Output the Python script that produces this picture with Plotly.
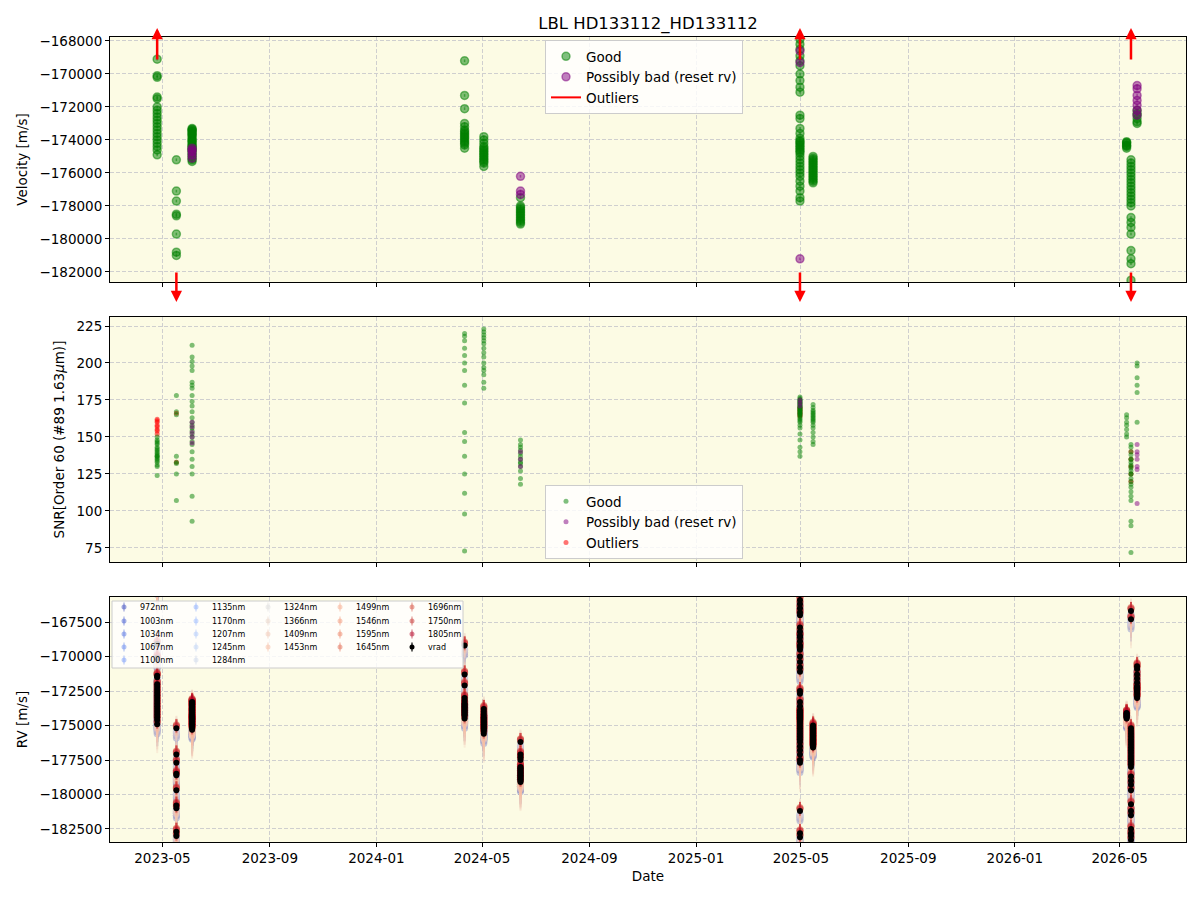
import plotly.graph_objects as go

# ---------------- data ----------------
epoch_dates = ["2023-04-25", "2023-05-17", "2023-06-04", "2024-04-11", "2024-05-03",
               "2024-06-14", "2025-04-30", "2025-05-15", "2026-05-09", "2026-05-14", "2026-05-21"]

good_rv = [
    [-169100, -170100, -170200, -171400, -171500, -172000, -172200, -172400, -172600, -172800,
     -173000, -173200, -173400, -173600, -173800, -174000, -174200, -174400, -174600, -174900],
    [-175200, -177100, -177700, -178500, -178600, -179700, -180800, -181000],
    [-173300, -173350, -173400, -173500, -173600, -173650, -173700, -173800, -173900, -174000,
     -174050, -174100, -174200, -174300, -174350, -174400, -174500, -174600, -174700, -174800,
     -174900, -175000, -175100, -175200, -175300, -173450, -174550],
    [-169200, -171300, -172100, -173000, -173200, -173400, -173500, -173600, -173700, -173800,
     -173900, -174000, -174100, -174200, -174300, -174500],
    [-173800, -174000, -174200, -174400, -174500, -174600, -174700, -174800, -174900, -175000,
     -175100, -175200, -175300, -175400, -175600],
    [-177500, -178000, -178100, -178200, -178300, -178400, -178500, -178600, -178700, -178800,
     -178900, -179000, -179100],
    [-167900, -168200, -168500, -168900, -169200, -169500, -170000, -170400, -170800, -171100,
     -172500, -172700, -173300, -173600, -173900, -174100, -174200, -174300, -174400, -174500,
     -174600, -174700, -174800, -175000, -175200, -175400, -175600, -175800, -176000, -176200,
     -176500, -176800, -177100, -177500, -177700, -174050],
    [-175000, -175100, -175200, -175300, -175400, -175500, -175600, -175700, -175800, -175900,
     -176000, -176100, -176200, -176300, -176400, -176500, -176600],
    [-174100, -174150, -174200, -174300, -174350, -174400, -174500],
    [-175200, -175400, -175600, -175800, -176000, -176200, -176400, -176600, -176800, -177000,
     -177200, -177400, -177600, -177800, -178000, -178700, -179000, -179300, -179700, -180700,
     -181200, -181500, -182500],
    [-172200, -172500, -172700, -172900, -173000, -172400],
]
good_snr = [
    [150, 148, 147, 146, 145, 143, 142, 141, 140, 139, 138, 137, 136, 135, 134, 133, 131, 130, 137, 124],
    [178, 167, 165, 137, 133, 125, 107, 132],
    [212, 204, 201, 198, 195, 187, 185, 183, 178, 174, 171, 167, 163, 160, 158, 156, 154, 152, 150, 147,
     145, 140, 135, 130, 125, 93, 110],
    [73, 98, 112, 125, 137, 147, 153, 173, 185, 195, 200, 205, 210, 215, 218, 220],
    [223, 221, 219, 217, 215, 213, 210, 207, 204, 200, 197, 195, 192, 187, 183],
    [148, 145, 143, 141, 139, 137, 135, 133, 130, 127, 122, 118, 132],
    [177, 176, 175, 175, 174, 174, 173, 173, 172, 172, 171, 171, 170, 170, 169, 169, 168, 168, 167, 167,
     166, 166, 165, 165, 164, 163, 162, 161, 160, 158, 156, 152, 148, 143, 140, 137],
    [172, 170, 168, 167, 166, 165, 164, 163, 162, 161, 160, 158, 156, 153, 150, 147, 145],
    [165, 163, 160, 158, 155, 152, 150],
    [145, 143, 140, 138, 135, 133, 131, 129, 127, 125, 122, 120, 118, 116, 113, 110, 107, 93, 90, 72,
     125, 130, 135],
    [200, 198, 190, 185, 180, 160],
]
bad_rv = [[], [], [-174500, -174700, -174900, -175100, -174600], [], [],
          [-176200, -177100, -177300], [-168600, -169300, -181200], [], [], [],
          [-170700, -170900, -171300, -171600, -171900, -172200, -172500]]
bad_snr = [[], [], [160, 157, 150, 146, 153], [], [],
           [140, 135, 130], [175, 173, 171], [], [], [],
           [140, 138, 135, 130, 128, 105, 145]]
out_rv = [[-164800, -164700, -164600, -164500, -164400, -164300, -164200, -164100],
          [-182700, -183000], [], [], [], [],
          [-167000, -166800, -166500, -166200, -165900, -182800, -183100], [], [],
          [-166700, -167300, -182800, -183000, -183300], []]
out_snr = [[152, 154, 155, 157, 158, 160, 161, 162],
           [166, 133], [], [], [], [],
           [170, 169, 168, 167, 166, 165, 164], [], [],
           [140, 135, 130, 125, 120], []]

band_names = ["972nm", "1003nm", "1034nm", "1067nm", "1100nm", "1135nm", "1170nm", "1207nm",
              "1245nm", "1284nm", "1324nm", "1366nm", "1409nm", "1453nm", "1499nm", "1546nm",
              "1595nm", "1645nm", "1696nm", "1750nm", "1805nm"]
band_offset = [-700, -550, -500, -400, -350, -300, -250, -250, -200, -150, -400, -500, -600, -300,
               100, 150, 200, 250, 250, 200, 150]
band_err = [900, 800, 750, 700, 650, 600, 600, 650, 700, 800, 1200, 1400, 1500, 1000,
            600, 500, 450, 400, 400, 450, 500]

# ---------------- helpers ----------------
CW = [(59, 76, 192), (68, 90, 204), (77, 104, 215), (87, 117, 225), (98, 130, 234), (108, 142, 241),
      (119, 154, 247), (130, 165, 251), (141, 176, 254), (152, 185, 255), (163, 194, 255),
      (174, 201, 253), (184, 208, 249), (194, 213, 244), (204, 217, 238), (213, 219, 230),
      (221, 221, 221), (229, 216, 209), (236, 211, 197), (241, 204, 185), (245, 196, 173),
      (247, 187, 160), (247, 177, 148), (247, 166, 135), (244, 154, 123), (241, 141, 111),
      (236, 127, 99), (229, 112, 88), (222, 96, 77), (213, 80, 66), (203, 62, 56), (192, 40, 47),
      (180, 4, 38)]


def coolwarm(t, a):
    p = t * (len(CW) - 1)
    i = min(int(p), len(CW) - 2)
    f = p - i
    c = [round(CW[i][k] + (CW[i + 1][k] - CW[i][k]) * f) for k in range(3)]
    return f"rgba({c[0]},{c[1]},{c[2]},{a})"


def flat(lists):
    xs, ys = [], []
    for d, vals in zip(epoch_dates, lists):
        xs += [d] * len(vals)
        ys += list(vals)
    return xs, ys


GREEN = "rgba(0,128,0,0.5)"
PURPLE = "rgba(128,0,128,0.5)"
RED = "rgba(255,0,0,0.55)"

Y1 = [-182606, -167758]
Y2 = [65.5, 231.1]
Y3 = [-183442, -165688]

fig = go.Figure()

# ---------------- panel 1 ----------------
gx, gy = flat(good_rv)
bx, by = flat(bad_rv)
fig.add_trace(go.Scatter(x=gx, y=gy, mode="markers", name="Good", legend="legend", legendrank=1,
                         marker=dict(size=8, color=GREEN, line=dict(color=GREEN, width=1.5)),
                         error_y=dict(type="constant", value=80, color=GREEN, thickness=1.5, width=0),
                         xaxis="x", yaxis="y"))
fig.add_trace(go.Scatter(x=bx, y=by, mode="markers", name="Possibly bad (reset rv)", legend="legend",
                         legendrank=2,
                         marker=dict(size=8, color=PURPLE, line=dict(color=PURPLE, width=1.5)),
                         error_y=dict(type="constant", value=80, color=PURPLE, thickness=1.5, width=0),
                         xaxis="x", yaxis="y"))
fig.add_trace(go.Scatter(x=[None, None], y=[None, None], mode="lines", name="Outliers", legend="legend",
                         legendrank=3, line=dict(color="red", width=2), xaxis="x", yaxis="y"))

annotations = []
ox, oy = flat(out_rv)
seen = set()
for d, v in zip(ox, oy):
    if v > Y1[1]:
        key = (d, "up")
        if key in seen:
            continue
        seen.add(key)
        annotations.append(dict(x=d, y=1.037, xref="x", yref="y domain", ax=0, ay=33, text="",
                                showarrow=True, arrowhead=2, arrowsize=0.9, arrowwidth=2.5, arrowcolor="red"))
    elif v < Y1[0]:
        key = (d, "down")
        if key in seen:
            continue
        seen.add(key)
        annotations.append(dict(x=d, y=-0.082, xref="x", yref="y domain", ax=0, ay=-31, text="",
                                showarrow=True, arrowhead=2, arrowsize=0.9, arrowwidth=2.5, arrowcolor="red"))

# ---------------- panel 2 ----------------
ogx, ogs = flat(out_snr)
gsx, gs = flat(good_snr)
bsx, bs = flat(bad_snr)
fig.add_trace(go.Scatter(x=ogx, y=ogs, mode="markers", name="Outliers", legend="legend2", legendrank=3,
                         marker=dict(size=5, color=RED), xaxis="x2", yaxis="y2"))
fig.add_trace(go.Scatter(x=gsx, y=gs, mode="markers", name="Good", legend="legend2", legendrank=1,
                         marker=dict(size=5, color=GREEN), xaxis="x2", yaxis="y2"))
fig.add_trace(go.Scatter(x=bsx, y=bs, mode="markers", name="Possibly bad (reset rv)", legend="legend2",
                         legendrank=2, marker=dict(size=5, color=PURPLE), xaxis="x2", yaxis="y2"))

# ---------------- panel 3 ----------------
allx, ally = [], []
for lists in (good_rv, bad_rv, out_rv):
    a, b = flat(lists)
    allx += a
    ally += b

nb = len(band_names)
band_colors = [coolwarm(i / (nb - 1), 0.3) for i in range(nb)]
for i, name in enumerate(band_names):
    yy = [v + band_offset[i] for v in ally]
    fig.add_trace(go.Scatter(x=allx, y=yy, mode="markers", name=name, showlegend=False,
                             marker=dict(size=7, color=band_colors[i]),
                             error_y=dict(type="constant", value=band_err[i], color=band_colors[i],
                                          thickness=2, width=0),
                             xaxis="x3", yaxis="y3"))
fig.add_trace(go.Scatter(x=allx, y=ally, mode="markers", name="vrad", showlegend=False,
                         marker=dict(size=6, color="black"),
                         error_y=dict(type="constant", value=80, color="black", thickness=1, width=0),
                         xaxis="x3", yaxis="y3"))


# manual multi-column legend for panel 3
def pxx(p):
    return (p - 110) / 1076


def pyy(p):
    return (842 - p) / 805


shapes = [dict(type="rect", xref="paper", yref="paper", x0=pxx(112), x1=pxx(463), y0=pyy(668), y1=pyy(601),
               fillcolor="rgba(255,255,255,0.8)", line=dict(color="#cccccc", width=1), layer="above")]
leg_items = band_names + ["vrad"]
leg_colors = [coolwarm(i / (nb - 1), 0.5) for i in range(nb)] + ["black"]
col_sizes = [5, 5, 4, 4, 4]
col_mx = [124, 196, 268, 340, 412]
row_y = [607, 621, 634, 647, 660]
k = 0
for c, n in enumerate(col_sizes):
    for r in range(n):
        mx, my = col_mx[c], row_y[r]
        col = leg_colors[k]
        shapes.append(dict(type="line", xref="paper", yref="paper", x0=pxx(mx), x1=pxx(mx),
                           y0=pyy(my + 4.5), y1=pyy(my - 4.5), line=dict(color=col, width=1.2), layer="above"))
        shapes.append(dict(type="circle", xref="paper", yref="paper", x0=pxx(mx - 2.5), x1=pxx(mx + 2.5),
                           y0=pyy(my + 2.5), y1=pyy(my - 2.5), fillcolor=col, line=dict(width=0), layer="above"))
        annotations.append(dict(x=pxx(mx + 14), y=pyy(my), xref="paper", yref="paper", text=leg_items[k],
                                showarrow=False, xanchor="left", yanchor="middle",
                                font=dict(size=8, color="black")))
        k += 1

# ---------------- layout ----------------
TF = dict(size=13.5, color="black")
axis_common = dict(showline=True, linecolor="black", linewidth=1, mirror=True, ticks="outside",
                   ticklen=4, tickcolor="black", showgrid=True, gridcolor="#cfcfcf", griddash="4px,2px",
                   gridwidth=1, zeroline=False, tickfont=dict(size=13.5, color="black"))
xcommon = dict(axis_common, type="date", range=["2023-03-02", "2026-07-16"], tick0="2023-01-01",
               dtick="M4", tickformat="%Y-%m")

fig.update_layout(
    width=1200, height=900,
    margin=dict(l=110, r=14, t=37, b=58),
    paper_bgcolor="white", plot_bgcolor="#fcfbe4",
    font=dict(family="DejaVu Sans", size=13.5, color="black"),
    title=dict(text="LBL HD133112_HD133112", x=0.5, xref="paper", xanchor="center",
               y=1 - 23 / 900, yref="container", yanchor="middle", font=dict(size=16.5)),
    xaxis=dict(xcommon, domain=[0, 1], anchor="y", showticklabels=False, matches="x3"),
    xaxis2=dict(xcommon, domain=[0, 1], anchor="y2", showticklabels=False, matches="x3"),
    xaxis3=dict(xcommon, domain=[0, 1], anchor="y3", title=dict(text="Date", standoff=6, font=TF)),
    yaxis=dict(axis_common, domain=[0.6957, 1], range=Y1, dtick=2000, tick0=-168000, tickformat="d",
               title=dict(text="Velocity [m/s]", standoff=8, font=TF)),
    yaxis2=dict(axis_common, domain=[0.3478, 0.6522], range=Y2, dtick=25, tick0=75, tickformat="d",
                title=dict(text="SNR[Order 60 (#89 1.63<i>μ</i>m)]", standoff=8, font=TF)),
    yaxis3=dict(axis_common, domain=[0, 0.3043], range=Y3, dtick=2500, tick0=-167500, tickformat="d",
                title=dict(text="RV [m/s]", standoff=8, font=TF)),
    legend=dict(x=pxx(545), y=pyy(40), xanchor="left", yanchor="top", bgcolor="rgba(255,255,255,0.8)",
                bordercolor="#cccccc", borderwidth=1, font=dict(size=13.5)),
    legend2=dict(x=pxx(545), y=pyy(485), xanchor="left", yanchor="top", bgcolor="rgba(255,255,255,0.8)",
                 bordercolor="#cccccc", borderwidth=1, font=dict(size=13.5)),
    shapes=shapes,
    annotations=annotations,
    showlegend=True,
)

fig.write_html("out.html")
